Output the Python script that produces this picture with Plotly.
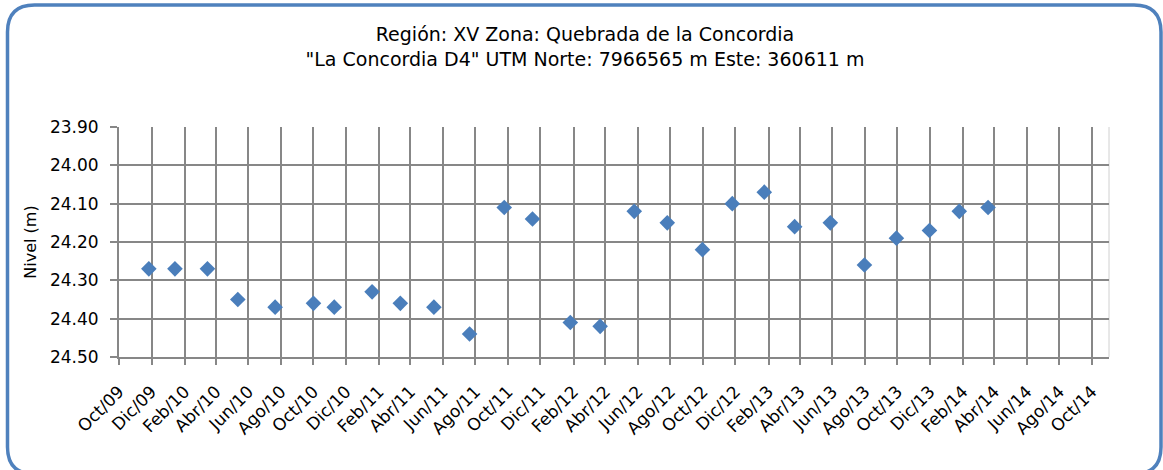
import plotly.graph_objects as go

# ---- data ----
fechas = [
    "2009-11-26", "2010-01-14", "2010-03-16", "2010-05-12", "2010-07-21",
    "2010-10-01", "2010-11-09", "2011-01-19", "2011-03-13", "2011-05-15",
    "2011-07-21", "2011-09-24", "2011-11-16", "2012-01-26", "2012-03-22",
    "2012-05-25", "2012-07-26", "2012-09-30", "2012-11-25", "2013-01-24",
    "2013-03-22", "2013-05-28", "2013-07-31", "2013-09-29", "2013-11-30",
    "2014-01-25", "2014-03-20",
]
nivel = [
    24.27, 24.27, 24.27, 24.35, 24.37,
    24.36, 24.37, 24.33, 24.36, 24.37,
    24.44, 24.11, 24.14, 24.41, 24.42,
    24.12, 24.15, 24.22, 24.10, 24.07,
    24.16, 24.15, 24.26, 24.19, 24.17,
    24.12, 24.11,
]
tick_vals = [
    "2009-10-01", "2009-12-01", "2010-02-01", "2010-04-01", "2010-06-01", "2010-08-01",
    "2010-10-01", "2010-12-01", "2011-02-01", "2011-04-01", "2011-06-01", "2011-08-01",
    "2011-10-01", "2011-12-01", "2012-02-01", "2012-04-01", "2012-06-01", "2012-08-01",
    "2012-10-01", "2012-12-01", "2013-02-01", "2013-04-01", "2013-06-01", "2013-08-01",
    "2013-10-01", "2013-12-01", "2014-02-01", "2014-04-01", "2014-06-01", "2014-08-01",
    "2014-10-01",
]
tick_text = [
    "Oct/09", "Dic/09", "Feb/10", "Abr/10", "Jun/10", "Ago/10",
    "Oct/10", "Dic/10", "Feb/11", "Abr/11", "Jun/11", "Ago/11",
    "Oct/11", "Dic/11", "Feb/12", "Abr/12", "Jun/12", "Ago/12",
    "Oct/12", "Dic/12", "Feb/13", "Abr/13", "Jun/13", "Ago/13",
    "Oct/13", "Dic/13", "Feb/14", "Abr/14", "Jun/14", "Ago/14",
    "Oct/14",
]
y_ticks = [23.9, 24.0, 24.1, 24.2, 24.3, 24.4, 24.5]

W, H = 1163, 470
ML, MR, MT, MB = 119, 54, 127, 113
FONT = "DejaVu Sans, Verdana, sans-serif"
GRID = "#878787"

fig = go.Figure()
fig.add_trace(go.Scatter(
    x=fechas, y=nivel, mode="markers",
    marker=dict(symbol="diamond", size=12, color="#4a7ebb"),
    hoverinfo="x+y", showlegend=False,
))

# rounded outer border (pixel -> paper conversion)
pw, ph = W - ML - MR, H - MT - MB
def px(x): return (x - ML) / pw
def py(y): return (H - MB - y) / ph
L, R, T, B, rr = 7.5, 1161, 5, 474, 27
path = (f"M {px(L+rr)},{py(T)} L {px(R-rr)},{py(T)} Q {px(R)},{py(T)} {px(R)},{py(T+rr)} "
        f"L {px(R)},{py(B-rr)} Q {px(R)},{py(B)} {px(R-rr)},{py(B)} "
        f"L {px(L+rr)},{py(B)} Q {px(L)},{py(B)} {px(L)},{py(B-rr)} "
        f"L {px(L)},{py(T+rr)} Q {px(L)},{py(T)} {px(L+rr)},{py(T)} Z")
fig.add_shape(type="path", path=path, xref="paper", yref="paper",
              line=dict(color="#4f81bd", width=3.5), layer="above")
# light right edge of plot area
fig.add_shape(type="line", xref="paper", yref="paper", x0=1, x1=1, y0=0, y1=1,
              line=dict(color="#d0d0d0", width=1), layer="below")

fig.update_layout(
    width=W, height=H,
    margin=dict(l=ML, r=MR, t=MT, b=MB),
    paper_bgcolor="white", plot_bgcolor="white",
    font=dict(family=FONT, size=16, color="black"),
    title=dict(
        text="Región: XV Zona: Quebrada de la Concordia<br>\"La Concordia D4\" UTM Norte: 7966565 m Este: 360611 m",
        x=0.503, xref="container", xanchor="center",
        y=1 - 41 / H, yref="container", yanchor="top",
        font=dict(family=FONT, size=19, color="black"),
    ),
    xaxis=dict(
        type="date", range=["2009-10-01", "2014-11-02"],
        tickmode="array", tickvals=tick_vals, ticktext=tick_text,
        tickangle=-45, showgrid=True, gridcolor=GRID, gridwidth=1.5,
        showline=True, linecolor=GRID, linewidth=2,
        ticks="outside", ticklen=6, tickcolor=GRID, tickwidth=1.5,
        ticklabelstandoff=10,
        zeroline=False, tickfont=dict(size=17),
    ),
    yaxis=dict(
        range=[24.5, 23.9], tickmode="array", tickvals=y_ticks,
        tickformat=".2f", showgrid=True, gridcolor=GRID, gridwidth=1.5,
        showline=True, linecolor=GRID, linewidth=2,
        ticks="outside", ticklen=7, tickcolor=GRID, tickwidth=1.5,
        ticklabelstandoff=8,
        zeroline=False, tickfont=dict(size=17),
        title=dict(text="Nivel (m)", font=dict(size=16), standoff=9),
    ),
)

fig.write_html("out.html", config={"displayModeBar": False},
               post_script="document.body.style.margin='0';")
